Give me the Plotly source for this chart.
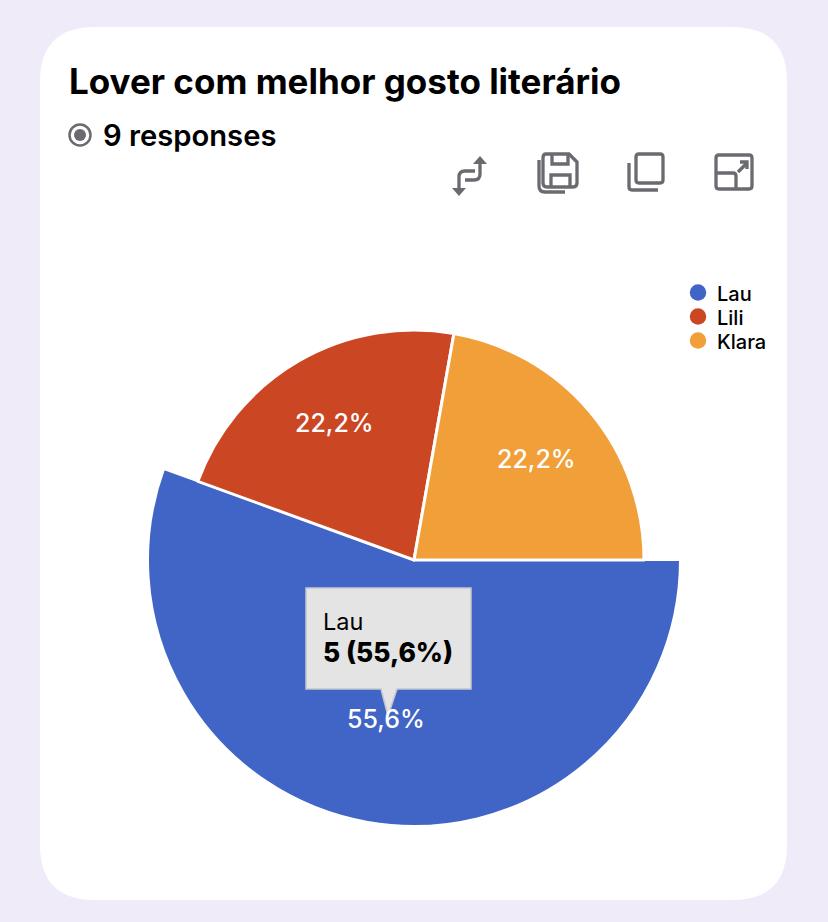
import math
import plotly.graph_objects as go

# ---- data ----
categories = ["Lau", "Lili", "Klara"]
responses = [5, 2, 2]
slice_colors = ["#4065C6", "#CB4724", "#F19F38"]
title_text = "Lover com melhor gosto literário"
subtitle_text = "9 responses"

W, H = 828, 922
CX, CY = 414, 560
R_BIG, R_SMALL = 266, 230
START_ANGLE = 90
LABEL_R = 160
FONT = "Inter"
ICON = "#6A6A70"
CLEAR = "rgba(0,0,0,0)"


def dom(r):
    return dict(x=[(CX - r) / W, (CX + r) / W], y=[1 - (CY + r) / H, 1 - (CY - r) / H])


fig = go.Figure()

# the highlighted slice is drawn larger than the others
fig.add_trace(go.Pie(
    labels=categories, values=responses, sort=False, direction="clockwise", rotation=START_ANGLE,
    domain=dom(R_BIG), showlegend=False, hoverinfo="skip", textinfo="none",
    marker=dict(colors=[slice_colors[0], CLEAR, CLEAR], line=dict(color="white", width=[2, 0, 0])),
))
fig.add_trace(go.Pie(
    labels=categories, values=responses, sort=False, direction="clockwise", rotation=START_ANGLE,
    domain=dom(R_SMALL), showlegend=False, hoverinfo="skip", textinfo="none",
    marker=dict(colors=[CLEAR, slice_colors[1], slice_colors[2]], line=dict(color="white", width=[0, 3, 3])),
))

# legend keys
legend_y = [292.5 + 24 * i for i in range(len(categories))]
fig.add_trace(go.Scatter(
    x=[698] * len(categories), y=legend_y, mode="markers", showlegend=False, hoverinfo="skip",
    marker=dict(color=slice_colors, size=16.5),
))


def stroke(path, width=3.3, color=ICON, fill=None):
    return dict(type="path", path=path, xref="x", yref="y", layer="above",
                line=dict(color=color, width=width), fillcolor=fill or CLEAR)


shapes = [
    # card
    dict(type="path", xref="x", yref="y", layer="below", fillcolor="white", line=dict(width=0),
         path="M 95 27 L 732 27 Q 787 27 787 82 L 787 845 Q 787 900 732 900 L 95 900 Q 40 900 40 845 L 40 82 Q 40 27 95 27 Z"),
    # responses icon
    dict(type="circle", xref="x", yref="y", layer="above", x0=69.5, x1=90.5, y0=124.5, y1=145.5,
         line=dict(color=ICON, width=2.5), fillcolor=CLEAR),
    dict(type="circle", xref="x", yref="y", layer="above", x0=74, x1=86, y0=129, y1=141,
         line=dict(width=0), fillcolor=ICON),
    # swap icon
    stroke("M 480 163 L 480 174 Q 480 180 474 180 L 465 180"),
    stroke("M 459 189 L 459 177 Q 459 171 465 171 L 475 171"),
    dict(type="path", xref="x", yref="y", layer="above", path="M 480 156 L 487 164 L 473 164 Z",
         fillcolor=ICON, line=dict(width=0)),
    dict(type="path", xref="x", yref="y", layer="above", path="M 459 196 L 452 188 L 466 188 Z",
         fillcolor=ICON, line=dict(width=0)),
    # save icon
    stroke("M 546 154 L 569 154 L 577 162 L 577 183 Q 577 187 573 187 L 547 187 Q 543 187 543 183 L 543 158 Q 543 154 546 154 Z"),
    stroke("M 552 155 L 552 164 L 568 164 L 568 155"),
    stroke("M 551 187 L 551 175 L 570 175 L 570 187"),
    stroke("M 539 160 L 539 186 Q 539 192 545 192 L 565 192"),
    # copy icon
    stroke("M 639 154 L 660 154 Q 663 154 663 157 L 663 180 Q 663 183 660 183 L 639 183 Q 636 183 636 180 L 636 157 Q 636 154 639 154 Z"),
    stroke("M 629 163 L 629 187 Q 629 190 632 190 L 658 190"),
    # expand icon
    stroke("M 719 155 L 749 155 Q 752 155 752 158 L 752 186 Q 752 189 749 189 L 719 189 Q 716 189 716 186 L 716 158 Q 716 155 719 155 Z"),
    stroke("M 716 173 L 733 173 Q 736 173 736 176 L 736 189"),
    stroke("M 738 172 L 747 163"),
    stroke("M 740 162 L 747 162 L 747 169"),
    # tooltip
    dict(type="path", xref="x", yref="y", layer="above", fillcolor="#E4E4E4",
         line=dict(color="#C4C6CC", width=1.5),
         path="M 306 588 L 471 588 L 471 689 L 397 689 L 388 716 L 381 689 L 306 689 Z"),
]


def label(x, y, text, size, weight=400, color="black", anchor="left"):
    return dict(x=x, y=y, xref="x", yref="y", text=text, showarrow=False, xanchor=anchor, yanchor="middle",
                font=dict(family=FONT, size=size, color=color, weight=weight))


def pct(v):
    return f"{v / sum(responses) * 100:.1f}%".replace(".", ",")


annotations = [
    label(67, 81, title_text, 35, 700),
    label(101, 135, subtitle_text, 29.2, 600),
    label(321, 621, categories[0], 23.5, 400),
    label(321, 652, f"{responses[0]} ({pct(responses[0])})", 26.4, 800),
]

# slice labels, placed on each slice's bisector
angle = START_ANGLE
for v in responses:
    sweep = v / sum(responses) * 360
    mid = math.radians(angle + sweep / 2)
    annotations.append(label(CX + LABEL_R * math.sin(mid), CY + 1.5 - LABEL_R * math.cos(mid), pct(v), 25, 500,
                             "white", "center"))
    angle += sweep

# legend labels
for name, y in zip(categories, legend_y):
    annotations.append(label(715, y + 1, name, 20, 500))

fig.update_layout(
    width=W, height=H, margin=dict(l=0, r=0, t=0, b=0),
    paper_bgcolor="#EFEBF8", plot_bgcolor=CLEAR, showlegend=False,
    xaxis=dict(range=[0, W], visible=False, domain=[0, 1], fixedrange=True),
    yaxis=dict(range=[H, 0], visible=False, domain=[0, 1], fixedrange=True),
    shapes=shapes, annotations=annotations,
    font=dict(family=FONT),
)

fig.write_html("out.html", config=dict(displayModeBar=False),
               post_script="document.body.style.margin='0';document.body.style.overflow='hidden';")
